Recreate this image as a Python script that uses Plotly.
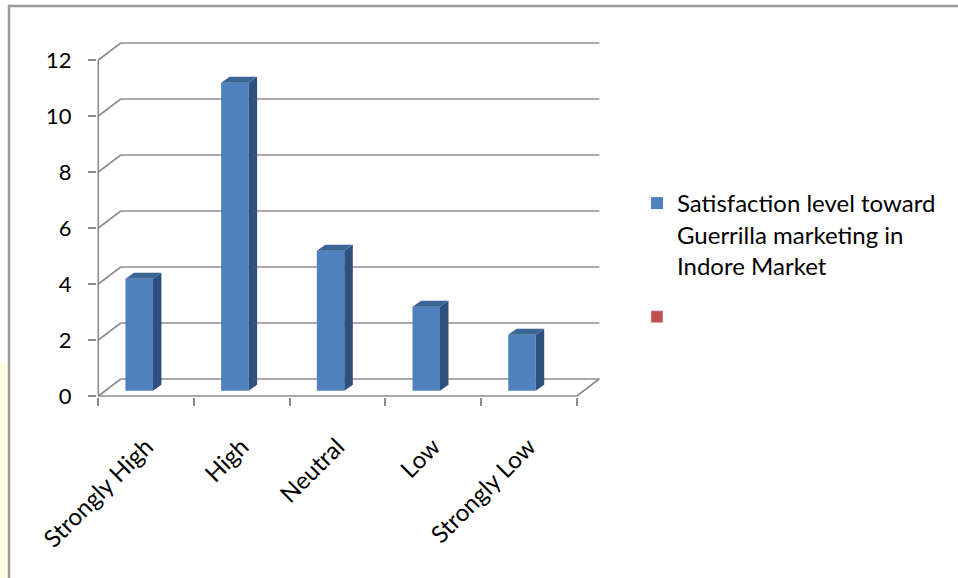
import plotly.graph_objects as go

# ---- data ----
categories = ["Strongly High", "High", "Neutral", "Low", "Strongly Low"]
values = [4, 11, 5, 3, 2]
series_name = "Satisfaction level toward<br>Guerrilla marketing in<br>Indore Market"
y_ticks = [0, 2, 4, 6, 8, 10, 12]

# ---- style / pseudo-3D geometry (axis units) ----
FRONT = "#4F81BD"
SIDE = "#2F507E"
TOP = "#3B6597"
GRID = "#8C8C8C"
FONT = "Lato"

W, H = 958, 578
ML, MR, MT, MB = 97, 357, 41, 181
XMIN = -0.5 - 1.3 / 95.7
XMAX = XMIN + (W - ML - MR) / 95.7
YMIN = -1.0 / 28.0
YMAX = YMIN + (H - MT - MB) / 28.0

wall_dx, wall_dy = 0.235, 0.607      # depth of the back wall
bar_off, bar_w, bar_base = -0.073, 0.287, 0.19
bar_dx, bar_dy = 0.089, 0.214        # depth of each bar

n = len(categories)
xs = list(range(n))

fig = go.Figure()

# front faces
fig.add_trace(go.Bar(
    x=[i + bar_off for i in xs], y=values, base=bar_base, width=bar_w,
    marker=dict(color=FRONT, line=dict(width=0)),
    name=series_name, legendgroup="a", hoverinfo="skip",
))
# empty second series (legend only)
fig.add_trace(go.Bar(
    x=[None], y=[None], name=" ", marker=dict(color="#C0504D"),
    legendgroup="b", hoverinfo="skip",
))

# side faces and top faces computed from values
sx, sy, tx, ty = [], [], [], []
for i, v in zip(xs, values):
    xl = i + bar_off - bar_w / 2
    xr = i + bar_off + bar_w / 2
    b = bar_base
    t = bar_base + v
    sx += [xr, xr + bar_dx, xr + bar_dx, xr, xr, None]
    sy += [b, b + bar_dy, t + bar_dy, t, b, None]
    tx += [xl, xl + bar_dx, xr + bar_dx, xr, xl, None]
    ty += [t, t + bar_dy, t + bar_dy, t, t, None]
fig.add_trace(go.Scatter(x=sx, y=sy, fill="toself", fillcolor=SIDE, mode="lines",
                         line=dict(width=0, color=SIDE), showlegend=False, hoverinfo="skip"))
fig.add_trace(go.Scatter(x=tx, y=ty, fill="toself", fillcolor=TOP, mode="lines",
                         line=dict(width=0, color=TOP), showlegend=False, hoverinfo="skip"))

# walls / gridlines
shapes = []
x0, x1 = -0.5, n - 0.5
for v in y_ticks:
    shapes.append(dict(type="line", xref="x", yref="y", x0=x0 + wall_dx, x1=x1 + wall_dx,
                       y0=v + wall_dy, y1=v + wall_dy, line=dict(color=GRID, width=1.6), layer="below"))
    shapes.append(dict(type="line", xref="x", yref="y", x0=x0, x1=x0 + wall_dx,
                       y0=v, y1=v + wall_dy, line=dict(color=GRID, width=1.6), layer="below"))
# floor front edge and right edge
shapes.append(dict(type="line", xref="x", yref="y", x0=x0, x1=x1, y0=0, y1=0,
                   line=dict(color=GRID, width=1.6), layer="below"))
shapes.append(dict(type="line", xref="x", yref="y", x0=x1, x1=x1 + wall_dx, y0=0, y1=wall_dy,
                   line=dict(color=GRID, width=1.6), layer="below"))
# front vertical axis
shapes.append(dict(type="line", xref="x", yref="y", x0=x0, x1=x0, y0=0, y1=max(y_ticks),
                   line=dict(color=GRID, width=1.6), layer="below"))

# outer frame (pixel -> paper)
pw, ph = W - ML - MR, H - MT - MB
def px(p):
    return (p - ML) / pw
def py(p):
    return (H - MB - p) / ph
shapes.append(dict(type="rect", xref="paper", yref="paper", x0=px(0), x1=px(8), y0=py(363), y1=py(578),
                   fillcolor="#FFFEE2", line=dict(width=0), layer="below"))
shapes.append(dict(type="line", xref="paper", yref="paper", x0=px(9), x1=px(9), y0=py(5), y1=py(578),
                   line=dict(color="#9A9A9A", width=2.5)))
shapes.append(dict(type="line", xref="paper", yref="paper", x0=px(8), x1=px(958), y0=py(6), y1=py(6),
                   line=dict(color="#9A9A9A", width=2.5)))

fig.update_layout(
    width=W, height=H, autosize=False,
    margin=dict(l=ML, r=MR, t=MT, b=MB),
    paper_bgcolor="white", plot_bgcolor="rgba(0,0,0,0)",
    font=dict(family=FONT, color="black"),
    shapes=shapes,
    showlegend=True,
    legend=dict(x=px(637), y=py(181), xanchor="left", yanchor="top",
                font=dict(size=24, family=FONT), valign="top",
                tracegroupgap=17, bgcolor="rgba(0,0,0,0)", itemwidth=30,
                borderwidth=0),
    xaxis=dict(range=[XMIN, XMAX], showgrid=False, zeroline=False, showline=False,
               tickmode="array", tickvals=xs, ticktext=categories, ticks="",
               tickangle=-45, tickfont=dict(size=24), ticklabelstandoff=30,
               minor=dict(tickmode="array", tickvals=[i - 0.5 for i in range(n + 1)],
                          ticks="outside", ticklen=8, tickwidth=1.6, tickcolor=GRID, showgrid=False)),
    yaxis=dict(range=[YMIN, YMAX], showgrid=False, zeroline=False, showline=False,
               tickmode="array", tickvals=y_ticks, ticks="outside", ticklen=8,
               tickwidth=1.6, tickcolor=GRID, tickfont=dict(size=22), ticklabelstandoff=12),
)

fig.write_html("out.html")
